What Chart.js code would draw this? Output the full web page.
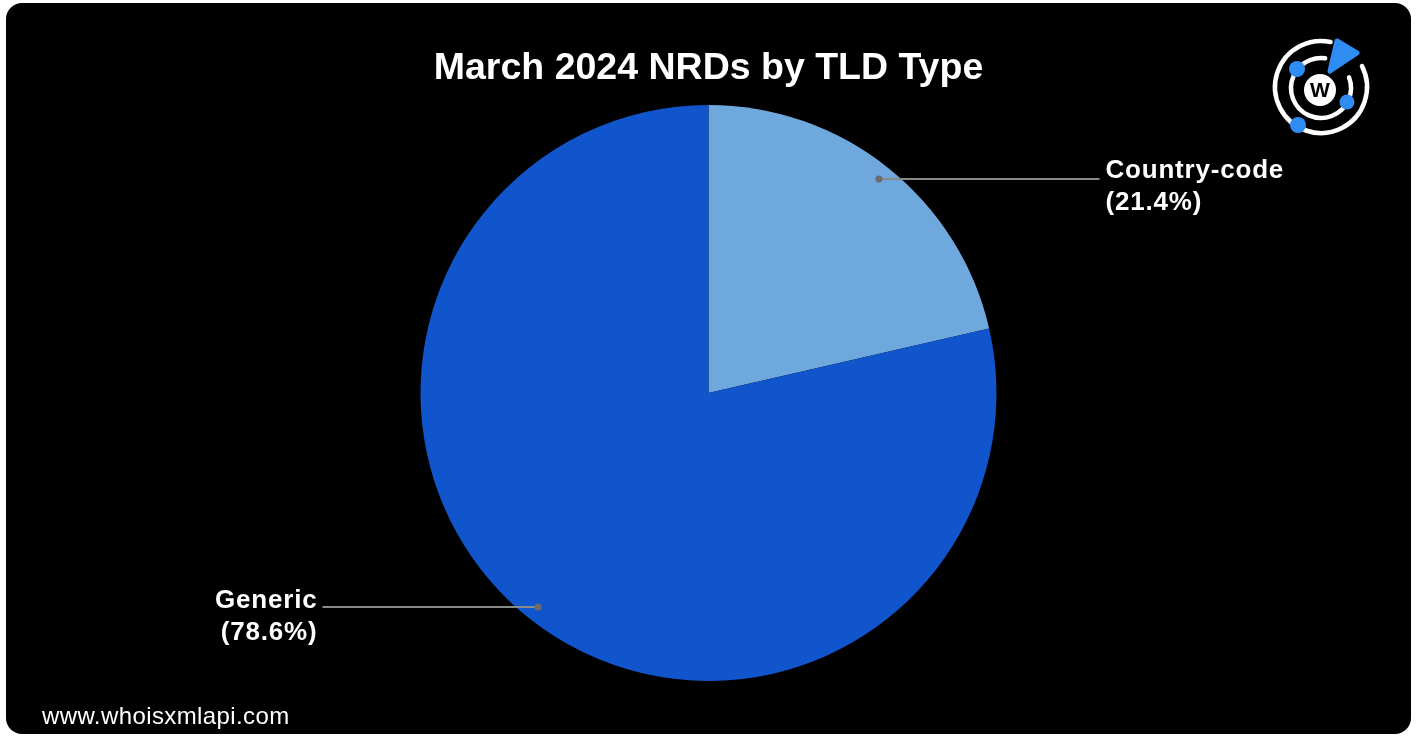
<!DOCTYPE html>
<html>
<head>
    <title>March 2024 NRDs by TLD Type</title>
    <script src="https://cdn.jsdelivr.net/npm/chart.js"></script>
    <style>
        body {
            margin: 0;
            padding: 0;
            background-color: #fff;
            width: 1417px;
            height: 737px;
            overflow: hidden;
            position: relative;
            font-family: 'Liberation Sans', Arial, Helvetica, sans-serif;
        }
        .card {
            position: absolute;
            left: 6px;
            top: 3px;
            width: 1405px;
            height: 731px;
            background-color: #000;
            border-radius: 16px;
        }
        canvas {
            position: absolute;
            left: 0;
            top: 0;
        }
        .footer {
            position: absolute;
            left: 42px;
            top: 702px;
            color: #fff;
            font-size: 24px;
            letter-spacing: 0.4px;
        }
    </style>
</head>
<body>
    <div class="card"></div>
    <canvas id="tldChart" width="1417" height="737"></canvas>
    <div class="footer">www.whoisxmlapi.com</div>

    <script>
        // Data
        const categories = ['Country-code', 'Generic'];
        const shares = [21.4, 78.6];
        const sliceColors = ['#6fa8dc', '#1155cc'];

        const FONT = "'Liberation Sans', Arial, Helvetica, sans-serif";

        // Leader lines + two-line labels beside each slice
        const sliceLabels = {
            id: 'sliceLabels',
            afterDatasetsDraw(chart) {
                const ctx = chart.ctx;
                const meta = chart.getDatasetMeta(0);
                meta.data.forEach(function(arc, i) {
                    const mid = (arc.startAngle + arc.endAngle) / 2;
                    const r = arc.outerRadius * 0.95;
                    const dx = arc.x + Math.cos(mid) * r;
                    const dy = arc.y + Math.sin(mid) * r;
                    const right = Math.cos(mid) >= 0;
                    const endX = right ? arc.x + 391 : arc.x - 386;

                    ctx.save();
                    ctx.strokeStyle = '#8a8a8a';
                    ctx.lineWidth = 2;
                    ctx.beginPath();
                    ctx.moveTo(dx, dy);
                    ctx.lineTo(endX, dy);
                    ctx.stroke();
                    ctx.fillStyle = '#6b6b6b';
                    ctx.beginPath();
                    ctx.arc(dx, dy, 3.5, 0, Math.PI * 2);
                    ctx.fill();

                    ctx.fillStyle = '#fff';
                    ctx.font = 'bold 26px ' + FONT;
                    ctx.letterSpacing = '0.8px';
                    ctx.textBaseline = 'middle';
                    ctx.textAlign = right ? 'left' : 'right';
                    const tx = right ? endX + 6 : endX - 5;
                    ctx.fillText(categories[i], tx, dy + (right ? -8.5 : -6));
                    ctx.fillText('(' + shares[i].toFixed(1) + '%)', tx, dy + (right ? 23.5 : 26));
                    ctx.restore();
                });
            }
        };

        // Small brand mark in the top right corner
        const brandLogo = {
            id: 'brandLogo',
            afterDraw(chart) {
                const ctx = chart.ctx;
                const cx = 1321, cy = 87;
                const blue = '#2f8cf2';
                const deg = Math.PI / 180;
                ctx.save();
                ctx.strokeStyle = '#fff';
                ctx.lineWidth = 4.5;
                ctx.lineCap = 'round';
                ctx.beginPath();
                ctx.arc(cx, cy, 46, -27 * deg, 282 * deg);
                ctx.stroke();
                ctx.beginPath();
                ctx.arc(cx, cy + 1, 30, -21 * deg, 278 * deg);
                ctx.stroke();

                ctx.fillStyle = '#fff';
                ctx.beginPath();
                ctx.arc(cx - 1, cy + 3, 16, 0, Math.PI * 2);
                ctx.fill();
                ctx.fillStyle = '#000';
                ctx.font = 'bold 21px ' + FONT;
                ctx.textAlign = 'center';
                ctx.textBaseline = 'middle';
                ctx.fillText('W', cx - 1, cy + 4);

                ctx.fillStyle = blue;
                [[1297, 69, 8], [1347, 102, 7.5], [1298, 125, 8]].forEach(function(d) {
                    ctx.beginPath();
                    ctx.arc(d[0], d[1], d[2], 0, Math.PI * 2);
                    ctx.fill();
                });
                ctx.lineJoin = 'round';
                ctx.strokeStyle = blue;
                ctx.lineWidth = 5;
                ctx.beginPath();
                ctx.moveTo(1337, 41);
                ctx.lineTo(1357, 53);
                ctx.lineTo(1330, 71);
                ctx.closePath();
                ctx.fill();
                ctx.stroke();
                ctx.restore();
            }
        };

        const ctxTld = document.getElementById('tldChart').getContext('2d');
        const tldChart = new Chart(ctxTld, {
            type: 'pie',
            data: {
                labels: categories,
                datasets: [{
                    data: shares,
                    backgroundColor: sliceColors,
                    borderWidth: 0
                }]
            },
            options: {
                responsive: false,
                animation: false,
                layout: {
                    padding: { top: 0, bottom: 56, left: 0, right: 0 }
                },
                plugins: {
                    legend: { display: false },
                    tooltip: { enabled: false },
                    title: {
                        display: true,
                        text: 'March 2024 NRDs by TLD Type',
                        color: '#fff',
                        font: { family: FONT, size: 37.5, weight: 'bold', lineHeight: 1.2 },
                        padding: { top: 46, bottom: 14 }
                    }
                }
            },
            plugins: [sliceLabels, brandLogo]
        });
    </script>
</body>
</html>
